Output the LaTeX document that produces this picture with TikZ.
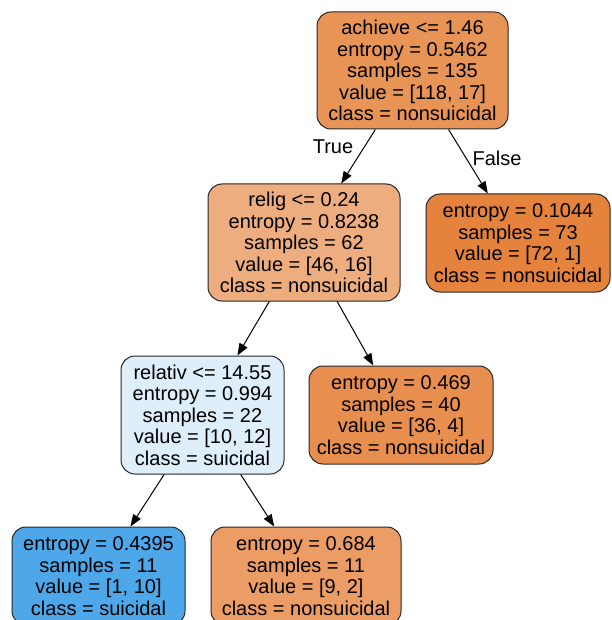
\documentclass[tikz,border=0pt]{standalone}
\usepackage{fontspec}
\setmainfont{Liberation Sans}
\usetikzlibrary{arrows.meta}
\definecolor{c0}{HTML}{E99457}
\definecolor{c1}{HTML}{EEAD7E}
\definecolor{c2}{HTML}{E5833C}
\definecolor{c3}{HTML}{DEEEFB}
\definecolor{c4}{HTML}{E88F4F}
\definecolor{c5}{HTML}{4DA7E8}
\definecolor{c6}{HTML}{EB9D65}
\begin{document}
\begin{tikzpicture}[x=1pt,y=-1pt,
  tn/.style={draw=black!85, line width=1pt, rounded corners=14pt, align=center, inner sep=0pt,
    font=\fontsize{20}{21.5}\selectfont},
  edge/.style={line width=1pt, -{Triangle[length=12pt,width=9pt]}},
  lab/.style={font=\fontsize{20}{21.5}\selectfont, inner sep=0pt}]
\useasboundingbox (0,0) rectangle (611,620);
\clip (0,0) rectangle (611,620);
\node[tn, fill=c0, minimum width=191pt, minimum height=117pt] (n0) at (412.5,70.5)
  {achieve <= 1.46\\entropy = 0.5462\\samples = 135\\value = [118, 17]\\class = nonsuicidal};
\node[tn, fill=c1, minimum width=192pt, minimum height=117pt] (n1) at (304,242.5)
  {relig <= 0.24\\entropy = 0.8238\\samples = 62\\value = [46, 16]\\class = nonsuicidal};
\node[tn, fill=c2, minimum width=184pt, minimum height=98pt] (n2) at (518,243)
  {entropy = 0.1044\\samples = 73\\value = [72, 1]\\class = nonsuicidal};
\node[tn, fill=c3, minimum width=163pt, minimum height=118pt] (n3) at (202.5,415)
  {relativ <= 14.55\\entropy = 0.994\\samples = 22\\value = [10, 12]\\class = suicidal};
\node[tn, fill=c4, minimum width=184pt, minimum height=98pt] (n4) at (401,415)
  {entropy = 0.469\\samples = 40\\value = [36, 4]\\class = nonsuicidal};
\node[tn, fill=c5, minimum width=173pt, minimum height=98pt] (n5) at (98.5,576)
  {entropy = 0.4395\\samples = 11\\value = [1, 10]\\class = suicidal};
\node[tn, fill=c6, minimum width=190pt, minimum height=98pt] (n6) at (306,576)
  {entropy = 0.684\\samples = 11\\value = [9, 2]\\class = nonsuicidal};
\draw[edge] (n0) -- (n1);
\draw[edge] (n0) -- (n2);
\draw[edge] (n1) -- (n3);
\draw[edge] (n1) -- (n4);
\draw[edge] (n3) -- (n5);
\draw[edge] (n3) -- (n6);
\node[lab] (lt) at (333,147) {True};
\node[lab] (lf) at (497,158) {False};
\end{tikzpicture}
\end{document}
